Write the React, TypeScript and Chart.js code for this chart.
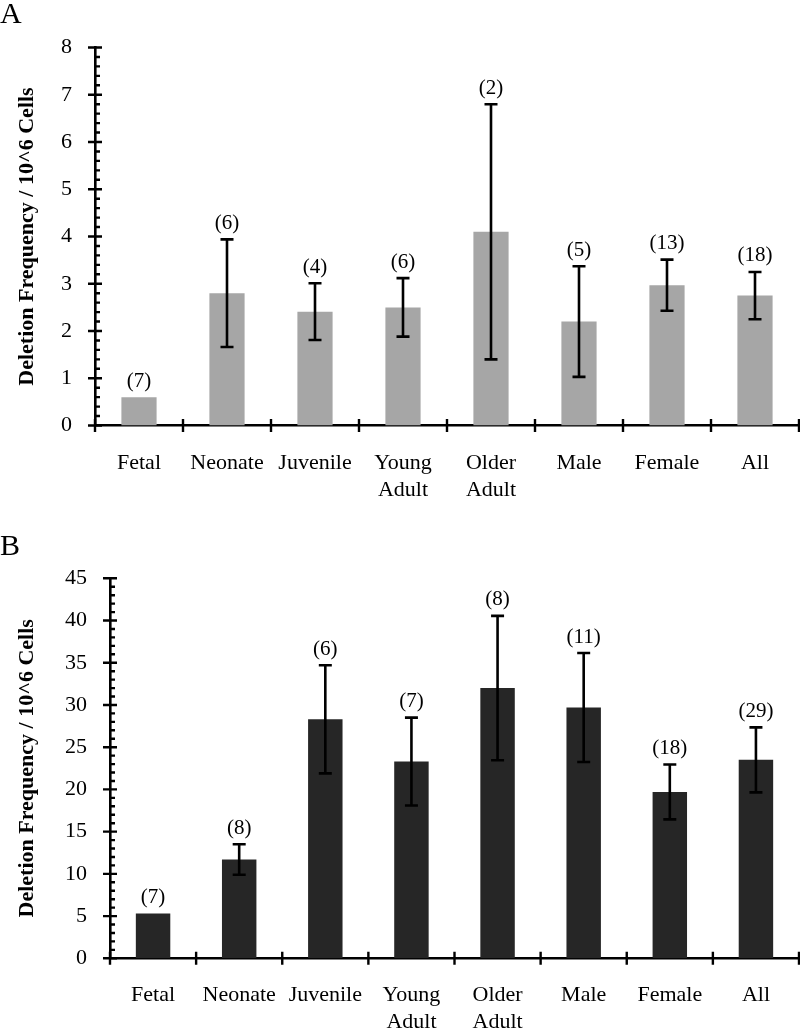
import React, { useEffect, useRef } from "react";
import { Chart, registerables } from "chart.js";

Chart.register(...registerables);

const FONT = "'Liberation Serif', 'Times New Roman', serif";

const categories: string[][] = [
  ["Fetal"],
  ["Neonate"],
  ["Juvenile"],
  ["Young", "Adult"],
  ["Older", "Adult"],
  ["Male"],
  ["Female"],
  ["All"],
];

const valuesA = [0.6, 2.8, 2.41, 2.5, 4.1, 2.2, 2.97, 2.75];
const errorsA = [0, 1.14, 0.6, 0.62, 2.7, 1.17, 0.54, 0.5];
const countsA = ["(7)", "(6)", "(4)", "(6)", "(2)", "(5)", "(13)", "(18)"];
const ticksA = [0, 1, 2, 3, 4, 5, 6, 7, 8];

const valuesB = [5.3, 11.7, 28.3, 23.3, 32.0, 29.7, 19.7, 23.5];
const errorsB = [0, 1.8, 6.4, 5.2, 8.55, 6.45, 3.25, 3.85];
const countsB = ["(7)", "(8)", "(6)", "(7)", "(8)", "(11)", "(18)", "(29)"];
const ticksB = [0, 5, 10, 15, 20, 25, 30, 35, 40, 45];

const yTitle = "Deletion Frequency / 10^6 Cells";

type Panel = {
  letter: string;
  values: number[];
  errors: number[];
  counts: string[];
  ticks: number[];
  minorStep: number;
  color: string;
  height: number;
  padTop: number;
  yWidth: number;
  xHeight: number;
  xPad: number;
  letterBaseline: number;
};

const panels: Panel[] = [
  {
    letter: "A",
    values: valuesA,
    errors: errorsA,
    counts: countsA,
    ticks: ticksA,
    minorStep: 0.2,
    color: "#a6a6a6",
    height: 520,
    padTop: 47.5,
    yWidth: 95,
    xHeight: 94.5,
    xPad: 25,
    letterBaseline: 23,
  },
  {
    letter: "B",
    values: valuesB,
    errors: errorsB,
    counts: countsB,
    ticks: ticksB,
    minorStep: 1,
    color: "#262626",
    height: 511,
    padTop: 58.3,
    yWidth: 110,
    xHeight: 72.7,
    xPad: 24,
    letterBaseline: 35,
  },
];

function makePlugin(p: Panel) {
  return {
    id: "decor" + p.letter,
    afterDatasetsDraw(chart: any) {
      const ctx = chart.ctx;
      const y = chart.scales.y;
      const meta = chart.getDatasetMeta(0);
      ctx.save();
      ctx.strokeStyle = "#000";
      ctx.fillStyle = "#000";
      ctx.lineWidth = 2.6;
      ctx.font = `21px ${FONT}`;
      ctx.textAlign = "center";
      ctx.textBaseline = "middle";
      p.values.forEach((v, i) => {
        const e = p.errors[i];
        const bx = meta.data[i].x;
        if (e > 0) {
          const yt = y.getPixelForValue(v + e);
          const yb = y.getPixelForValue(v - e);
          ctx.beginPath();
          ctx.moveTo(bx, yt);
          ctx.lineTo(bx, yb);
          ctx.moveTo(bx - 6.5, yt);
          ctx.lineTo(bx + 6.5, yt);
          ctx.moveTo(bx - 6.5, yb);
          ctx.lineTo(bx + 6.5, yb);
          ctx.stroke();
        }
        const ly = y.getPixelForValue(v + e) - 16;
        ctx.fillText(p.counts[i], bx, ly);
      });
      ctx.restore();
    },
    afterDraw(chart: any) {
      const ctx = chart.ctx;
      const x = chart.scales.x;
      const y = chart.scales.y;
      const area = chart.chartArea;
      ctx.save();
      ctx.strokeStyle = "#000";
      ctx.lineWidth = 2.4;
      ctx.beginPath();
      // y major ticks
      p.ticks.forEach((t) => {
        const py = y.getPixelForValue(t);
        ctx.moveTo(area.left - 7, py);
        ctx.lineTo(area.left + 7, py);
      });
      // y minor ticks
      const max = p.ticks[p.ticks.length - 1];
      const n = Math.round(max / p.minorStep);
      for (let k = 0; k <= n; k++) {
        const py = y.getPixelForValue(k * p.minorStep);
        ctx.moveTo(area.left, py);
        ctx.lineTo(area.left + 5, py);
      }
      // x category boundary ticks
      const count = p.values.length;
      for (let i = 0; i <= count; i++) {
        let px: number;
        if (i === 0) px = x.left;
        else if (i === count) px = x.right;
        else px = (x.getPixelForValue(i - 1) + x.getPixelForValue(i)) / 2;
        ctx.moveTo(px, area.bottom - 6.5);
        ctx.lineTo(px, area.bottom + 6.5);
      }
      ctx.stroke();
      // panel letter
      ctx.fillStyle = "#000";
      ctx.font = `30px ${FONT}`;
      ctx.textAlign = "left";
      ctx.textBaseline = "alphabetic";
      ctx.fillText(p.letter, 0, p.letterBaseline);
      ctx.restore();
    },
  };
}

function PanelChart({ p }: { p: Panel }) {
  const ref = useRef<HTMLCanvasElement | null>(null);
  useEffect(() => {
    if (!ref.current) return;
    const chart = new Chart(ref.current, {
      type: "bar",
      data: {
        labels: categories,
        datasets: [
          {
            data: p.values,
            backgroundColor: p.color,
            borderWidth: 0,
            barPercentage: 0.4,
            categoryPercentage: 1,
          },
        ],
      },
      options: {
        responsive: false,
        animation: false,
        devicePixelRatio: 1,
        layout: { padding: { top: p.padTop, right: 1, left: 0, bottom: 0 } },
        plugins: {
          legend: { display: false },
          tooltip: { enabled: false },
        },
        scales: {
          x: {
            grid: { display: false, drawTicks: false },
            border: { display: true, color: "#000", width: 2.6 },
            ticks: {
              color: "#000",
              font: { family: FONT, size: 22 },
              padding: p.xPad,
              maxRotation: 0,
              minRotation: 0,
              autoSkip: false,
            },
            afterFit: (s: any) => {
              s.height = p.xHeight;
            },
          },
          y: {
            min: 0,
            max: p.ticks[p.ticks.length - 1],
            grid: { display: false, drawTicks: false },
            border: { display: true, color: "#000", width: 2.6 },
            afterBuildTicks: (s: any) => {
              s.ticks = p.ticks.map((v) => ({ value: v }));
            },
            ticks: {
              color: "#000",
              font: { family: FONT, size: 22 },
              padding: 23,
              callback: (v: any) => String(v),
            },
            title: {
              display: true,
              text: yTitle,
              color: "#000",
              font: { family: FONT, size: 22, weight: "bold" },
              padding: { top: 14, bottom: 0 },
            },
            afterFit: (s: any) => {
              s.width = p.yWidth;
            },
          },
        },
      },
      plugins: [makePlugin(p)],
    } as any);
    return () => chart.destroy();
  }, [p]);
  return (
    <canvas
      ref={ref}
      width={800}
      height={p.height}
      style={{ display: "block", width: 800, height: p.height }}
    />
  );
}

export default function App() {
  return (
    <div
      style={{
        position: "absolute",
        left: 0,
        top: 0,
        width: 800,
        height: 1031,
        background: "#fff",
        overflow: "hidden",
      }}
    >
      {panels.map((p) => (
        <PanelChart key={p.letter} p={p} />
      ))}
    </div>
  );
}
